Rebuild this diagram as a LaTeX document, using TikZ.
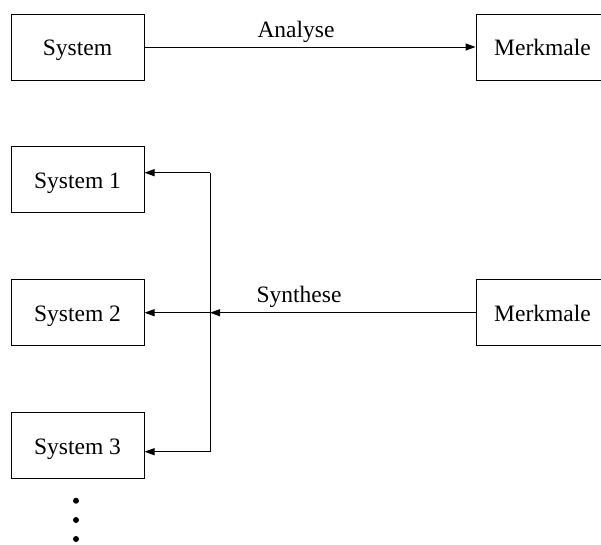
\documentclass[tikz,border=0pt]{standalone}
\usepackage{fontspec}
\setmainfont{Liberation Serif}
\usetikzlibrary{arrows.meta}
\begin{document}
\begin{tikzpicture}[x=1pt,y=-1pt,
  box/.style={draw,line width=1pt,minimum width=133pt,minimum height=66pt,inner sep=0pt,text height=17.4pt,text depth=0pt,font=\fontsize{23.5}{28}\selectfont},
  lbl/.style={anchor=base,inner sep=0pt,font=\fontsize{23.5}{28}\selectfont},
  conn/.style={line width=1pt,-{Triangle[length=10pt,width=7pt]}},
  dot/.style={circle,fill,inner sep=0pt,minimum size=6pt}]
\useasboundingbox (0,0) rectangle (601,544);
\node[box] (sys) at (77.5,47) {System};
\node[box] (mk1) at (542.5,47) {Merkmale};
\node[box] (s1) at (77.5,179.7) {System 1};
\node[box] (s2) at (77.5,312.7) {System 2};
\node[box] (s3) at (77.5,445.7) {System 3};
\node[box] (mk2) at (542.5,312.7) {Merkmale};
\coordinate (j) at (210,312.7);
\coordinate (jt) at (210,172.7);
\coordinate (jb) at (210,451.7);
\draw[conn] (sys.east) -- (mk1.west);
\node[lbl] (la) at (296,37) {Analyse};
\draw[conn] (mk2.west) -- (j);
\draw[conn] (j) -- (s2.east);
\draw[line width=1pt] (jt) -- (jb);
\draw[conn] (jt) -- (s1.east |- jt);
\draw[conn] (jb) -- (s3.east |- jb);
\node[lbl] (ls) at (299,302) {Synthese};
\node[dot] (d1) at (76,500.7) {};
\node[dot] (d2) at (76,520) {};
\node[dot] (d3) at (76,539) {};
\end{tikzpicture}
\end{document}
